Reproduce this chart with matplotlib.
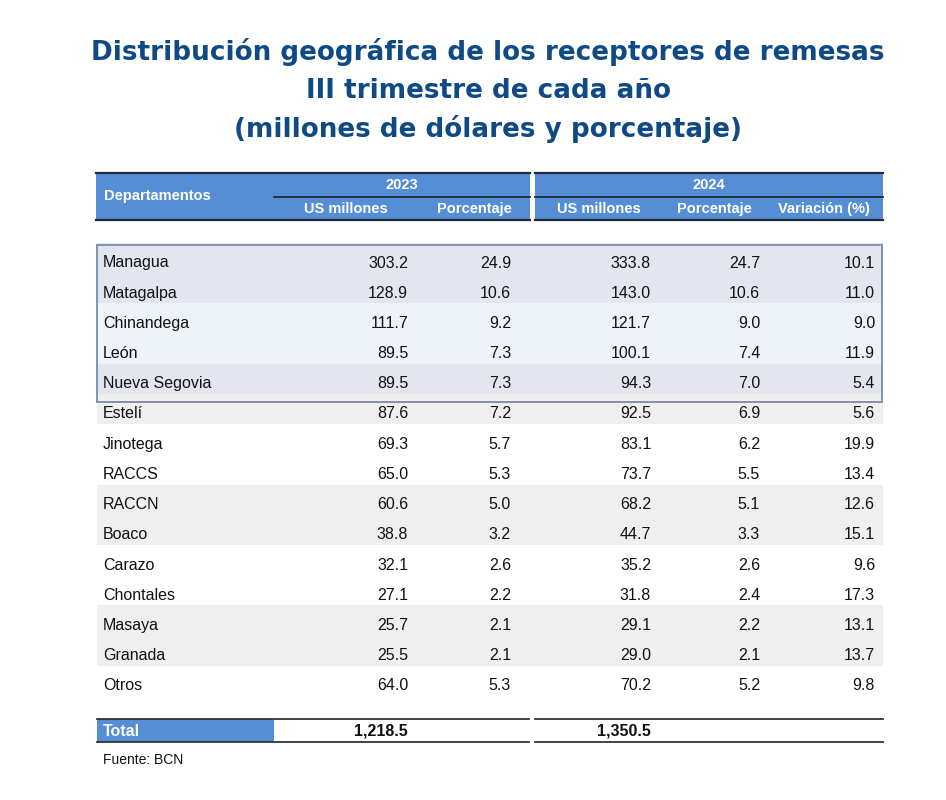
import matplotlib.pyplot as plt
from matplotlib.patches import Rectangle

# data
departamentos = ['Managua', 'Matagalpa', 'Chinandega', 'León', 'Nueva Segovia',
                 'Estelí', 'Jinotega', 'RACCS', 'RACCN', 'Boaco', 'Carazo',
                 'Chontales', 'Masaya', 'Granada', 'Otros']
usd_2023 = [303.2, 128.9, 111.7, 89.5, 89.5, 87.6, 69.3, 65.0, 60.6, 38.8,
            32.1, 27.1, 25.7, 25.5, 64.0]
pct_2023 = [24.9, 10.6, 9.2, 7.3, 7.3, 7.2, 5.7, 5.3, 5.0, 3.2, 2.6, 2.2,
            2.1, 2.1, 5.3]
usd_2024 = [333.8, 143.0, 121.7, 100.1, 94.3, 92.5, 83.1, 73.7, 68.2, 44.7,
            35.2, 31.8, 29.1, 29.0, 70.2]
pct_2024 = [24.7, 10.6, 9.0, 7.4, 7.0, 6.9, 6.2, 5.5, 5.1, 3.3, 2.6, 2.4,
            2.2, 2.1, 5.2]
variacion = [10.1, 11.0, 9.0, 11.9, 5.4, 5.6, 19.9, 13.4, 12.6, 15.1, 9.6,
             17.3, 13.1, 13.7, 9.8]
total_2023 = 1218.5
total_2024 = 1350.5

title_lines = ['Distribución geográfica de los receptores de remesas',
               'III trimestre de cada año',
               '(millones de dólares y porcentaje)']

HEAD_BLUE = '#558ed5'
TITLE_BLUE = '#0f4a85'
LINE = '#1f2a3c'
BODY = 'Liberation Sans'

fig = plt.figure(figsize=(9.46, 8), dpi=100)
ax = fig.add_axes([0, 0, 1, 1])
ax.set_xlim(0, 946)
ax.set_ylim(800, 0)
ax.axis('off')

# title
for i, t in enumerate(title_lines):
    ax.text(488, 52 + i * 38.5, t, ha='center', va='center', fontsize=18.9,
            fontweight='bold', color=TITLE_BLUE, family='DejaVu Sans')

# header band
ax.add_patch(Rectangle((96, 173), 434, 47, color=HEAD_BLUE, lw=0))
ax.add_patch(Rectangle((535, 173), 348, 47, color=HEAD_BLUE, lw=0))
for x0, x1 in [(96, 530), (535, 883)]:
    ax.plot([x0, x1], [173, 173], color=LINE, lw=1.6)
    ax.plot([x0, x1], [220, 220], color=LINE, lw=1.6)
ax.plot([274, 530], [196.5, 196.5], color=LINE, lw=1.3)
ax.plot([535, 883], [196.5, 196.5], color=LINE, lw=1.3)

hkw = dict(color='white', fontweight='bold', fontsize=10.5, family=BODY, va='center')
ax.text(104, 196, 'Departamentos', ha='left', **hkw)
ax.text(402, 185, '2023', ha='center', **hkw)
ax.text(709, 185, '2024', ha='center', **hkw)
sub_labels = ['US millones', 'Porcentaje', 'US millones', 'Porcentaje', 'Variación (%)']
sub_x = [346, 474, 599, 714, 824]
for lab, x in zip(sub_labels, sub_x):
    ax.text(x, 209, lab, ha='center', **hkw)

# rows
y0 = 263
step = 30.2
band_cols = ['#e3e6ee', '#e3e6ee', '#eef2f9', '#eef2f9', '#e3e6ee',
             '#efefef', 'white', 'white', '#efefef', '#efefef', 'white',
             'white', '#efefef', '#efefef', 'white']
for i in range(len(departamentos)):
    yc = y0 + i * step
    ax.add_patch(Rectangle((97, yc - 20), 786, step, color=band_cols[i], lw=0))

ax.add_patch(Rectangle((97, 245), 784.5, 156.5, fill=False, ec='#8093ad', lw=1.4))

col_x = [408, 511, 651, 760, 875]
cols = [usd_2023, pct_2023, usd_2024, pct_2024, variacion]
for i, name in enumerate(departamentos):
    yc = y0 + i * step
    ax.text(103, yc, name, ha='left', va='center', fontsize=11.5,
            family=BODY, color='#111111')
    for x, vals in zip(col_x, cols):
        ax.text(x, yc, f'{vals[i]:.1f}', ha='right', va='center',
                fontsize=11.5, family=BODY, color='#111111')

# total row
ax.add_patch(Rectangle((97, 719), 177, 23, color=HEAD_BLUE, lw=0))
for x0, x1 in [(97, 529), (535, 883)]:
    ax.plot([x0, x1], [719, 719], color='#333333', lw=1.3)
    ax.plot([x0, x1], [742, 742], color='#333333', lw=1.3)
ax.text(103, 731, 'Total', ha='left', va='center', fontsize=11.5,
        fontweight='bold', color='white', family=BODY)
ax.text(408, 731, f'{total_2023:,.1f}', ha='right', va='center', fontsize=11.5,
        fontweight='bold', color='#111111', family=BODY)
ax.text(651, 731, f'{total_2024:,.1f}', ha='right', va='center', fontsize=11.5,
        fontweight='bold', color='#111111', family=BODY)

ax.text(103, 760, 'Fuente: BCN', ha='left', va='center', fontsize=10,
        family=BODY, color='#111111')

fig.savefig('out.png', dpi=100, facecolor='white')
